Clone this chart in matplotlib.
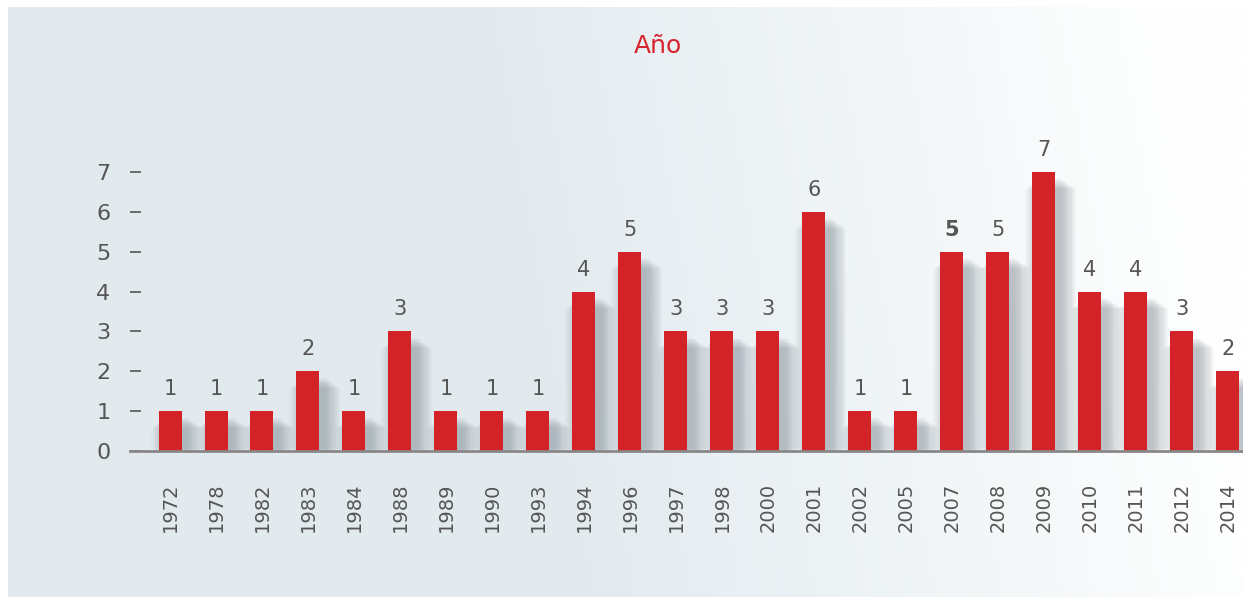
import numpy as np
import matplotlib
matplotlib.use("Agg")
import matplotlib.pyplot as plt

years = ["1972", "1978", "1982", "1983", "1984", "1988", "1989", "1990", "1993",
         "1994", "1996", "1997", "1998", "2000", "2001", "2002", "2005", "2007",
         "2008", "2009", "2010", "2011", "2012", "2014"]
counts = [1, 1, 1, 2, 1, 3, 1, 1, 1, 4, 5, 3, 3, 3, 6, 1, 1, 5, 5, 7, 4, 4, 3, 2]
bold_labels = ["2007"]

W, H = 1243, 597
fig = plt.figure(figsize=(W / 100, H / 100), dpi=100)
fig.patch.set_facecolor("white")

# background panel with a soft left-to-right gradient
bg = fig.add_axes([8 / W, 0, 1 - 8 / W, 1 - 7 / H])
bg.set_axis_off()
gx, gy = np.meshgrid(np.linspace(0, 1, 400), np.linspace(0, 1, 200))
t = np.clip((gx - 0.45) / 0.55 + (1 - gy) * 0.15, 0, 1)
left = np.array([226, 234, 238]) / 255
right = np.array([253, 254, 254]) / 255
img = left[None, None, :] * (1 - t[..., None]) + right[None, None, :] * t[..., None]
bg.imshow(img, aspect="auto", extent=[0, 1, 0, 1], origin="upper")

ax = fig.add_axes([130 / W, (H - 451) / H, 1 - 130 / W, 8 * 39.86 / H])
ax.patch.set_alpha(0)
x = np.arange(len(years))

# blurred drop shadow: stacked translucent boxes, wider ones lower and fainter
for i in range(14):
    grow = i * 0.025
    ax.bar(x + 0.15, np.array(counts) - 0.08 - grow * 1.2, width=0.46 + 2 * grow,
           bottom=-0.08 + grow * 0.4, color="#5f6a74", alpha=0.03, zorder=1,
           linewidth=0)

ax.bar(x, counts, width=0.5, color="#d42229", zorder=3, linewidth=0)

for xi, yr, c in zip(x, years, counts):
    ax.text(xi, c + 0.3, str(c), ha="center", va="bottom", fontsize=15,
            color="#555555", fontweight="bold" if yr in bold_labels else "normal",
            zorder=4)

ax.set_xlim(-0.87, 23.33)
ax.set_ylim(0, 8)
ax.set_yticks(range(8))
ax.set_xticks(x)
ax.set_xticklabels(years, rotation=90, fontsize=14, color="#555555")
ax.tick_params(axis="x", length=0, pad=23)
ax.tick_params(axis="y", direction="in", length=8, width=1.2, color="#555555",
               labelsize=16, labelcolor="#555555", pad=14)
for s in ["top", "right", "left"]:
    ax.spines[s].set_visible(False)
ax.spines["bottom"].set_color("#888888")
ax.spines["bottom"].set_linewidth(2)
ax.spines["bottom"].set_zorder(5)

fig.text(658 / W, 1 - 46 / H, "Año", ha="center", va="center", fontsize=18,
         color="#d7232b")

fig.savefig("out.png", dpi=100)
